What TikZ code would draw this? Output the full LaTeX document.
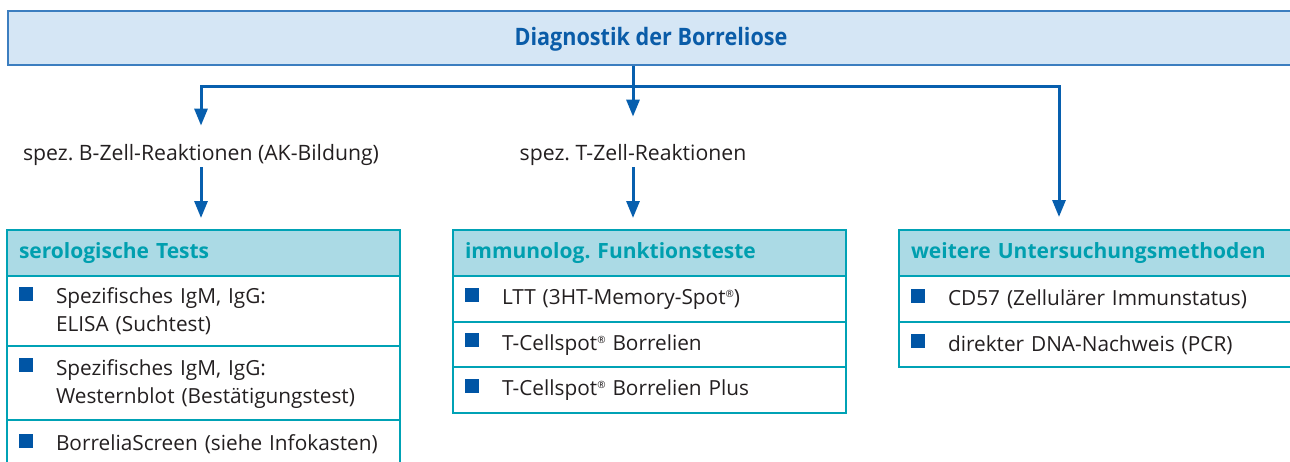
\documentclass[tikz,border=0pt]{standalone}
\usepackage{fontspec}
\setmainfont{Open Sans}
\newfontfamily\titlefont[FakeStretch=0.9]{Open Sans}
\usetikzlibrary{positioning, arrows.meta}

\definecolor{titlefill}{HTML}{D5E6F5}
\definecolor{titleline}{HTML}{3C7EC0}
\definecolor{titletext}{HTML}{0A5CA8}
\definecolor{flowblue}{HTML}{075FAE}
\definecolor{boxteal}{HTML}{00A2B5}
\definecolor{hdrfill}{HTML}{ABDAE5}
\definecolor{hdrtext}{HTML}{009FAF}
\definecolor{bulletblue}{HTML}{0055A5}
\definecolor{bodytext}{HTML}{231F20}

\newcommand{\bitem}[1]{\makebox[18.5pt][l]{\textcolor{bulletblue}{\rule[1.5pt]{7pt}{7pt}}}\parbox[t]{166pt}{\raggedright #1}}
\newcommand{\reg}{\raisebox{3.6pt}{\fontsize{5}{6}\selectfont\textregistered}}

\tikzset{
    flow/.style={draw=flowblue, line width=1.5pt, -{Triangle[width=6.5pt,length=8.5pt]}},
    titlebox/.style={draw=titleline, fill=titlefill, line width=1pt, minimum width=660pt,
        minimum height=27pt, anchor=west},
    titletxt/.style={text=titletext, font=\titlefont\fontsize{12}{14}\selectfont\bfseries},
    lbl/.style={inner sep=0pt, minimum height=12pt, text=bodytext, font=\fontsize{10.6}{14}\selectfont},
    hdr/.style={draw=boxteal, fill=hdrfill, line width=1pt, outer sep=0pt, text=hdrtext, anchor=north west,
        font=\fontsize{10.5}{14}\selectfont\bfseries, minimum width=196.5pt, minimum height=23pt,
        text width=184.5pt, inner xsep=6pt, align=left},
    item/.style={draw=boxteal, line width=1pt, outer sep=0pt, text=bodytext, font=\fontsize{10.4}{14}\selectfont,
        minimum width=196.5pt, minimum height=22.75pt, text width=184.5pt, inner xsep=6pt, align=left},
    wide/.style={minimum width=210pt, text width=198pt}
}

\begin{document}
\frenchspacing
\begin{tikzpicture}[x=0.5pt, y=-0.5pt]
    \useasboundingbox (0,0) rectangle (1290,461);

    % top
    \node[titlebox] (diag) at (7,38) {};
    \node[titletxt] (diagtxt) at (651,39) {Diagnostik der Borreliose};

    \node[lbl] (bzell) at (201,155) {spez. B-Zell-Reaktionen (AK-Bildung)};
    \node[lbl] (tzell) at (633,155) {spez. T-Zell-Reaktionen};

    % boxes
    \node[hdr] (sero) at (7,230) {serologische Tests};
    \node[item, minimum height=35pt, below=0pt of sero] (sero1) {\bitem{Spezifisches IgM, IgG:\\ELISA (Suchtest)}};
    \node[item, minimum height=37pt, below=0pt of sero1] (sero2) {\bitem{Spezifisches IgM, IgG:\\Westernblot (Bestätigungstest)}};
    \node[item, minimum height=24pt, below=0pt of sero2] (sero3) {\bitem{BorreliaScreen (siehe Infokasten)}};

    \node[hdr] (immu) at (453,230) {immunolog. Funktionsteste};
    \node[item, below=0pt of immu] (immu1) {\bitem{LTT (3HT-Memory-Spot\reg)}};
    \node[item, below=0pt of immu1] (immu2) {\bitem{T-Cellspot\reg{} Borrelien}};
    \node[item, below=0pt of immu2] (immu3) {\bitem{T-Cellspot\reg{} Borrelien Plus}};

    \node[hdr, wide] (weitere) at (899,230) {weitere Untersuchungsmethoden};
    \node[item, wide, below=0pt of weitere] (weitere1) {\bitem{CD57 (Zellulärer Immunstatus)}};
    \node[item, wide, below=0pt of weitere1] (weitere2) {\bitem{direkter DNA-Nachweis (PCR)}};

    % arrows
    \coordinate (jl) at (201,86);
    \coordinate (jr) at (1059,86);
    \draw[flow, shorten >=13pt] (diag.south -| tzell) -- (tzell.north);
    \draw[flow, shorten >=8.5pt] (jr) -| (bzell.north);
    \draw[flow, shorten >=6.5pt] (jl) -| (jr |- weitere.north);
    \draw[flow, shorten >=6pt] (bzell.south) -- (bzell.south |- sero.north);
    \draw[flow, shorten >=6pt] (tzell.south) -- (tzell.south |- immu.north);
\end{tikzpicture}
\end{document}
